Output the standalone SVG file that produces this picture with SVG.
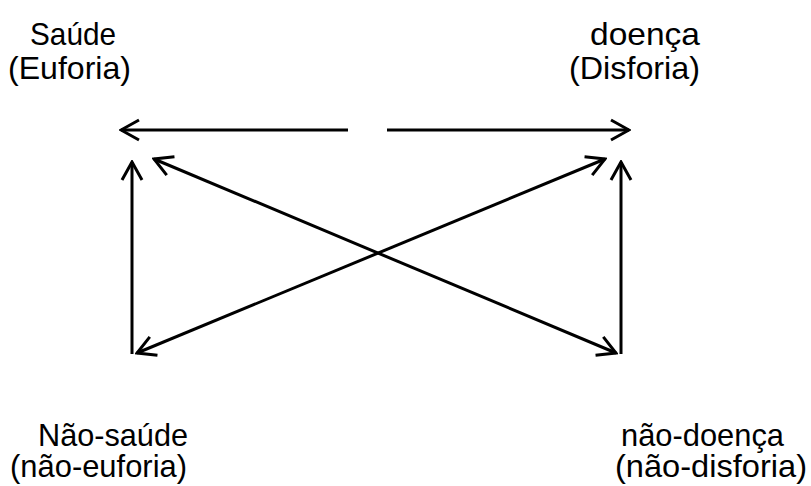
<svg xmlns="http://www.w3.org/2000/svg" width="811" height="486" viewBox="0 0 811 486">
<style>
text{font-family:"Liberation Sans",Arial,sans-serif;font-size:32px;fill:#000}
.c line{stroke:#000;stroke-width:3;fill:none}
</style>
<defs>
<marker id="ah" viewBox="-22 -12 24 24" markerWidth="24" markerHeight="24" refX="0" refY="0" orient="auto-start-reverse" markerUnits="userSpaceOnUse">
<polyline points="-18,-10 0,0 -18,10" fill="none" stroke="#000" stroke-width="3"/>
</marker>
</defs>
<rect width="811" height="486" fill="#fff"/>
<g id="saude"><text x="30" y="45" textLength="86" lengthAdjust="spacingAndGlyphs">Saúde</text><text x="8" y="79" textLength="123" lengthAdjust="spacingAndGlyphs">(Euforia)</text></g>
<g id="doenca"><text x="590" y="45" textLength="110" lengthAdjust="spacingAndGlyphs">doença</text><text x="569" y="79" textLength="131" lengthAdjust="spacingAndGlyphs">(Disforia)</text></g>
<g id="nao-saude"><text x="38" y="446" textLength="150" lengthAdjust="spacingAndGlyphs">Não-saúde</text><text x="10" y="477" textLength="177" lengthAdjust="spacingAndGlyphs">(não-euforia)</text></g>
<g id="nao-doenca"><text x="621" y="446" textLength="163" lengthAdjust="spacingAndGlyphs">não-doença</text><text x="615" y="477" textLength="192" lengthAdjust="spacingAndGlyphs">(não-disforia)</text></g>
<g id="connectors" class="c">
<line x1="348" y1="130" x2="121" y2="130" marker-end="url(#ah)"/>
<line x1="387" y1="130" x2="629" y2="130" marker-end="url(#ah)"/>
<line x1="132" y1="354" x2="132" y2="162" marker-end="url(#ah)"/>
<line x1="621" y1="354" x2="621" y2="162" marker-end="url(#ah)"/>
<line x1="616" y1="353" x2="154" y2="159" marker-start="url(#ah)" marker-end="url(#ah)"/>
<line x1="137" y1="353" x2="605" y2="159" marker-start="url(#ah)" marker-end="url(#ah)"/>
</g>
</svg>
